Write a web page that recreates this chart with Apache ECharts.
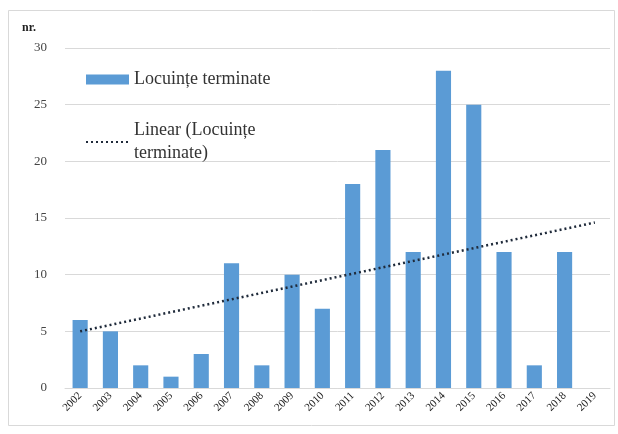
<!DOCTYPE html>
<html>
<head>
<meta charset="utf-8">
<script src="https://cdn.jsdelivr.net/npm/echarts@6/dist/echarts.min.js"></script>
<style>
  body { margin: 0; background: #fff; }
  #chart { width: 618px; height: 434px; }
</style>
</head>
<body>
<div id="chart"></div>
<script>
var years = ['2002', '2003', '2004', '2005', '2006', '2007', '2008', '2009', '2010',
  '2011', '2012', '2013', '2014', '2015', '2016', '2017', '2018', '2019'];
var locuinte = [6, 5, 2, 1, 3, 11, 2, 10, 7, 18, 21, 12, 28, 25, 12, 2, 12, null];
// trend line: only the two end points
var trend = [5.0, null, null, null, null, null, null, null, null,
  null, null, null, null, null, null, null, null, 14.6];
var yTicks = [0, 5, 10, 15, 20, 25, 30];

var serif = '"Liberation Serif", "DejaVu Serif", serif';

echarts.init(document.querySelector("#chart")).setOption({
  animation: false,
  backgroundColor: '#fff',
  graphic: [{
    type: 'rect',
    shape: { x: 8.5, y: 10.5, width: 606, height: 415 },
    style: { fill: 'none', stroke: '#d9d9d9', lineWidth: 1 },
    silent: true
  }],
  title: {
    text: 'nr.',
    left: 22,
    top: 22,
    padding: 0,
    textStyle: { fontFamily: serif, fontSize: 12, fontWeight: 'bold', color: '#222' }
  },
  legend: {
    left: 80,
    top: 63,
    orient: 'vertical',
    itemGap: 28,
    itemWidth: 43,
    itemHeight: 10,
    textStyle: { fontFamily: serif, fontSize: 18, color: '#333', lineHeight: 23 },
    formatter: function (name) {
      return name === 'Linear (Locuințe terminate)' ? 'Linear (Locuințe\nterminate)' : name;
    },
    data: [
      { name: 'Locuințe terminate', icon: 'rect' },
      { name: 'Linear (Locuințe terminate)', itemStyle: { opacity: 0 } }
    ]
  },
  grid: { left: 65, right: 8, top: 48, bottom: 46 },
  xAxis: {
    type: 'category',
    data: years,
    axisLine: { lineStyle: { color: '#d9d9d9' } },
    axisTick: { show: false },
    axisLabel: {
      rotate: 45,
      interval: 0,
      margin: 6,
      fontFamily: serif,
      fontSize: 11,
      color: '#222'
    }
  },
  yAxis: {
    type: 'value',
    min: yTicks[0],
    max: yTicks[yTicks.length - 1],
    interval: 5,
    axisLine: { show: false },
    axisTick: { show: false },
    splitLine: { lineStyle: { color: '#d9d9d9' } },
    axisLabel: { margin: 18, fontFamily: serif, fontSize: 13, color: '#444' }
  },
  series: [{
    name: 'Locuințe terminate',
    type: 'bar',
    data: locuinte,
    barWidth: '50%',
    itemStyle: { color: '#5B9BD5' }
  }, {
    name: 'Linear (Locuințe terminate)',
    type: 'line',
    data: trend,
    connectNulls: true,
    symbol: 'none',
    lineStyle: { color: '#1f2a3a', width: 2.5, type: [2, 3] },
    itemStyle: { color: '#1f2a3a' },
    z: 5
  }]
});
</script>
</body>
</html>
